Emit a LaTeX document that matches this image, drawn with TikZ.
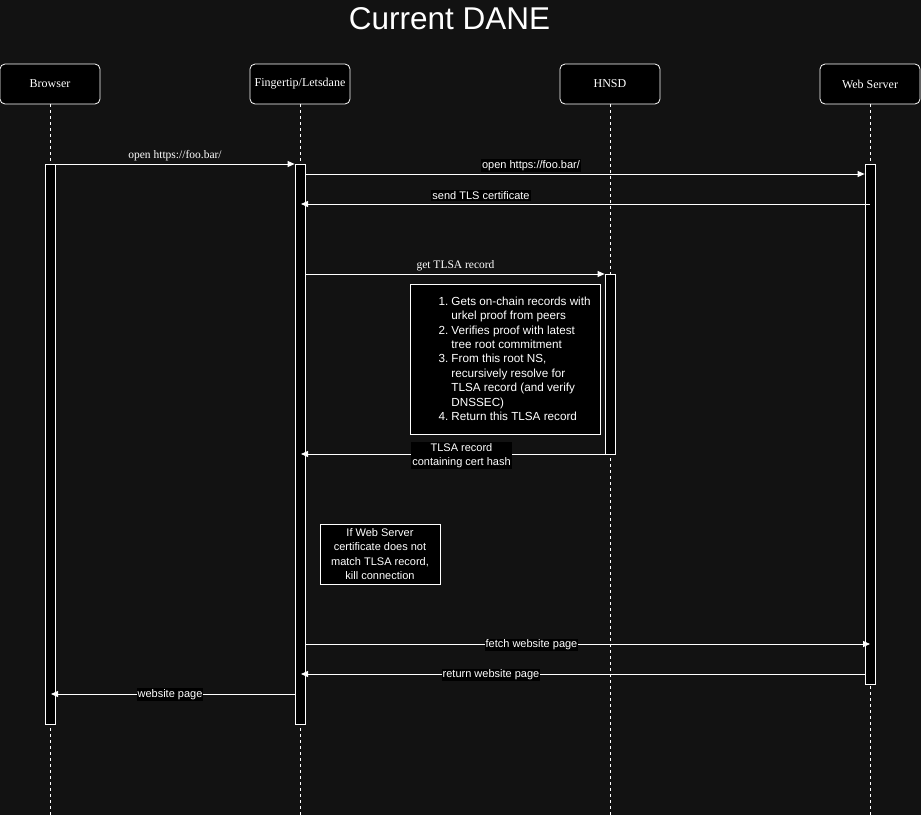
\documentclass[tikz,border=0pt]{standalone}
\usepackage{fontspec}
\setmainfont{Liberation Serif}
\setsansfont{Liberation Sans}
\usetikzlibrary{arrows.meta}
\definecolor{bgc}{RGB}{18,18,18}
\begin{document}
\begin{tikzpicture}[x=1pt,y=-1pt,
  actor/.style={draw=white, fill=black, rounded corners=5pt, line width=0.8pt,
    minimum width=100pt, minimum height=40pt, inner sep=0pt, text=white,
    font=\fontsize{12}{14}\selectfont},
  life/.style={draw=white, line width=0.8pt, dash pattern=on 3pt off 3pt},
  bar/.style={draw=white, fill=black, line width=0.8pt, minimum width=10pt, inner sep=0pt},
  msg/.style={draw=white, line width=0.8pt, -{Triangle[length=7pt,width=6pt]}},
  slabel/.style={fill=black, text=white, inner sep=1pt, font=\sffamily\fontsize{11}{13}\selectfont},
  rlabel/.style={text=white, inner sep=1pt, font=\fontsize{11.5}{13}\selectfont},
  notebox/.style={draw=white, fill=black, line width=0.8pt, text=white, inner sep=0pt,
    font=\sffamily\fontsize{11}{14.4}\selectfont},
  notetext/.style={text=white, inner sep=0pt, font=\sffamily\fontsize{11.7}{14.4}\selectfont}
]
\useasboundingbox (0,0) rectangle (921,815);
\fill[bgc] (0,0) rectangle (921,815);

% title
\node[text=white, anchor=base, inner sep=0pt, font=\sffamily\fontsize{31.5}{36}\selectfont] (title) at (449.5,29.5) {Current DANE};

% actors
\node[actor] (b) at (50,84) {Browser};
\node[actor] (f) at (300,84) {Fingertip/Letsdane};
\node[actor] (h) at (610,84) {HNSD};
\node[actor] (w) at (870,84) {Web Server};

% lifeline ends
\coordinate (be) at (50,815);
\coordinate (fe) at (300,815);
\coordinate (he) at (610,815);
\coordinate (we) at (870,815);
\draw[life] (b.south) -- (be);
\draw[life] (f.south) -- (fe);
\draw[life] (h.south) -- (he);
\draw[life] (w.south) -- (we);

% activation bars
\node[bar, minimum height=560pt] (bb) at (50,444) {};
\node[bar, minimum height=560pt] (fb) at (300,444) {};
\node[bar, minimum height=180pt] (hb) at (610,364) {};
\node[bar, minimum height=520pt] (wb) at (870,424) {};

% message rows
\coordinate (y1) at (0,164);
\coordinate (y2) at (0,174);
\coordinate (y3) at (0,204);
\coordinate (y4) at (0,274);
\coordinate (y5) at (0,454);
\coordinate (y6) at (0,644);
\coordinate (y7) at (0,674);
\coordinate (y8) at (0,694);
\coordinate (tipf) at (301,0);
\coordinate (tipb) at (51,0);

% note boxes
\node[notebox, minimum width=190pt, minimum height=150pt] (n1) at (505,359) {};
\node[notetext, anchor=north west] (n1t) at (438.5,295) {%
  \setlength\tabcolsep{0pt}\renewcommand\arraystretch{1}%
  \begin{tabular}[t]{r@{\hspace{3pt}}l}
  1. & Gets on-chain records with\\
     & urkel proof from peers\\
  2. & Verifies proof with latest\\
     & tree root commitment\\
  3. & From this root NS,\\
     & recursively resolve for\\
     & TLSA record (and verify\\
     & DNSSEC)\\
  4. & Return this TLSA record
  \end{tabular}};
\node[notebox, minimum width=120pt, minimum height=60pt, align=center] (n2) at (380,554)
  {If Web Server\\certificate does not\\match TLSA record,\\kill connection};

% messages
\draw[msg] (bb.east |- y1) -- (fb.west |- y1);
\node[rlabel] (l1) at (175,156) {open https://foo.bar/};

\draw[msg] (fb.east |- y2) -- (wb.west |- y2);
\node[slabel] (l2) at (531,165.5) {open https://foo.bar/};

\draw[msg] (w |- y3) -- (tipf |- y3);
\node[slabel] (l3) at (481,195.5) {send TLS certificate};

\draw[msg] (fb.east |- y4) -- (hb.west |- y4);
\node[rlabel] (l4) at (455.5,265.5) {get TLSA record};

\draw[msg] (hb.west |- y5) -- (tipf |- y5);
\node[slabel, align=center, minimum width=99pt, font=\sffamily\fontsize{11}{14}\selectfont] (l5) at (461.5,455.5) {TLSA record\\containing cert hash};

\draw[msg] (fb.east |- y6) -- (w |- y6);
\node[slabel] (l6) at (531.5,645) {fetch website page};

\draw[msg] (wb.west |- y7) -- (tipf |- y7);
\node[slabel] (l7) at (491,675) {return website page};

\draw[msg] (fb.west |- y8) -- (tipb |- y8);
\node[slabel] (l8) at (170,694.5) {website page};
\end{tikzpicture}
\end{document}
